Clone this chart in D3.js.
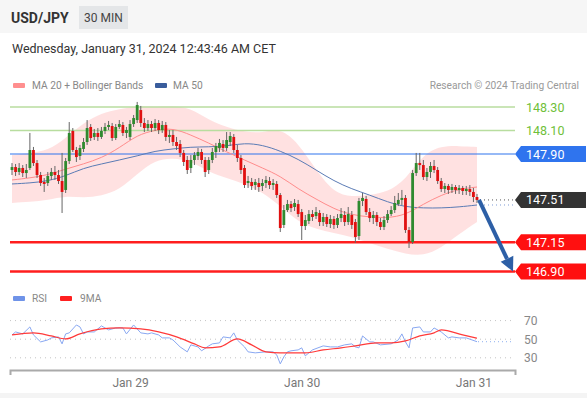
<!DOCTYPE html>
<html>
<head>
<meta charset="utf-8">
<script src="https://cdn.jsdelivr.net/npm/d3@7"></script>
<style>
  body { margin: 0; background: #fff; }
  svg { display: block; font-family: Roboto, "Liberation Sans", sans-serif; }
</style>
</head>
<body>
<svg width="587" height="398"></svg>
<script>
// USD/JPY 30 min candles, index 0 = first bar on screen
var opens = [
  147.764,147.789,147.747,147.781,147.738,147.781,147.934,147.823,147.721,147.662,
  147.653,147.713,147.747,147.721,147.670,147.594,147.840,148.096,147.934,147.883,
  147.943,148.002,148.130,148.045,148.079,148.045,148.096,148.130,148.138,148.036,
  148.130,148.147,148.079,148.045,148.155,148.189,148.274,148.164,148.121,148.155,
  148.121,148.164,148.104,148.147,148.045,148.062,148.002,147.985,147.909,147.849,
  147.781,147.849,147.883,147.917,147.849,147.764,147.849,147.917,147.951,147.985,
  147.951,148.002,148.045,147.934,147.866,147.781,147.653,147.662,147.636,147.653,
  147.628,147.653,147.670,147.636,147.645,147.551,147.296,147.423,147.474,147.449,
  147.474,147.406,147.287,147.330,147.389,147.372,147.398,147.321,147.364,147.304,
  147.347,147.296,147.355,147.381,147.321,147.381,147.321,147.202,147.500,147.517,
  147.406,147.355,147.381,147.321,147.279,147.338,147.389,147.423,147.474,147.509,
  147.526,147.253,147.151,147.738,147.823,147.806,147.704,147.747,147.798,147.764,
  147.670,147.602,147.628,147.594,147.619,147.594,147.611,147.585,147.602,147.577,
  147.534
];
var closes = [
  147.789,147.747,147.781,147.738,147.764,147.934,147.823,147.721,147.653,147.645,
  147.713,147.747,147.721,147.670,147.577,147.840,148.079,147.934,147.874,147.951,
  148.002,148.121,148.036,148.079,148.045,148.096,148.130,148.147,148.036,148.130,
  148.155,148.079,148.104,148.155,148.206,148.317,148.164,148.121,148.155,148.121,
  148.164,148.104,148.147,148.045,148.062,148.002,147.968,147.909,147.832,147.764,
  147.849,147.891,147.917,147.849,147.747,147.849,147.917,147.968,147.994,147.951,
  148.019,148.053,147.934,147.866,147.764,147.636,147.670,147.628,147.662,147.619,
  147.653,147.679,147.636,147.653,147.551,147.270,147.423,147.474,147.440,147.483,
  147.389,147.287,147.338,147.389,147.364,147.406,147.321,147.364,147.304,147.347,
  147.296,147.355,147.389,147.321,147.389,147.296,147.194,147.500,147.526,147.406,
  147.355,147.381,147.321,147.279,147.338,147.389,147.423,147.483,147.509,147.526,
  147.253,147.151,147.738,147.823,147.806,147.704,147.747,147.798,147.764,147.670,
  147.602,147.628,147.594,147.619,147.594,147.611,147.585,147.602,147.577,147.534,
  147.509
];
var highs = [
  147.823,147.815,147.823,147.806,147.815,148.079,147.960,147.849,147.747,147.696,
  147.747,147.781,147.798,147.764,147.909,147.866,148.172,148.121,147.960,147.977,
  148.036,148.189,148.155,148.113,148.121,148.130,148.164,148.181,148.164,148.155,
  148.189,148.172,148.130,148.189,148.232,148.343,148.309,148.206,148.189,148.181,
  148.198,148.189,148.181,148.172,148.104,148.104,148.045,148.019,147.934,147.883,
  147.891,147.917,147.951,147.943,147.874,147.874,147.951,147.994,148.028,148.019,
  148.087,148.087,148.070,147.977,147.891,147.806,147.713,147.696,147.687,147.696,
  147.687,147.713,147.704,147.687,147.670,147.568,147.466,147.509,147.500,147.517,
  147.509,147.432,147.381,147.423,147.423,147.449,147.423,147.398,147.389,147.381,
  147.372,147.389,147.440,147.415,147.449,147.415,147.347,147.526,147.568,147.543,
  147.440,147.415,147.406,147.355,147.372,147.423,147.457,147.543,147.568,147.594,
  147.551,147.279,147.764,147.909,147.909,147.849,147.781,147.832,147.849,147.789,
  147.696,147.653,147.645,147.645,147.636,147.636,147.628,147.628,147.636,147.611,
  147.560
];
var lows = [
  147.721,147.713,147.721,147.704,147.696,147.764,147.798,147.696,147.628,147.577,
  147.628,147.679,147.679,147.645,147.398,147.568,147.815,147.917,147.832,147.849,
  147.917,147.977,148.011,148.019,148.011,148.028,148.070,148.104,148.011,148.019,
  148.113,148.053,148.036,148.019,148.130,148.164,148.130,148.087,148.096,148.087,
  148.096,148.070,148.079,148.011,147.994,147.968,147.934,147.874,147.798,147.730,
  147.738,147.806,147.849,147.815,147.704,147.730,147.823,147.866,147.917,147.917,
  147.926,147.968,147.909,147.832,147.730,147.611,147.611,147.594,147.594,147.577,
  147.585,147.611,147.602,147.594,147.526,147.236,147.270,147.406,147.406,147.415,
  147.364,147.168,147.253,147.304,147.330,147.347,147.287,147.287,147.279,147.270,
  147.262,147.270,147.321,147.287,147.296,147.262,147.143,147.168,147.457,147.381,
  147.321,147.304,147.287,147.253,147.253,147.313,147.372,147.398,147.457,147.466,
  147.228,147.100,147.134,147.713,147.764,147.679,147.670,147.696,147.738,147.645,
  147.577,147.568,147.560,147.568,147.560,147.560,147.551,147.551,147.543,147.491,
  147.483
];

// moving averages and bands, read every 5 bars
var bandIdx = [0,5,10,15,20,25,30,35,40,45,50,55,60,65,70,75,80,85,90,95,100,105,110,115,120,125,130];
var ma20 = [147.679,147.696,147.721,147.772,147.815,147.866,147.951,148.062,148.104,148.121,148.062,147.994,147.917,
            147.849,147.781,147.713,147.602,147.517,147.432,147.381,147.364,147.355,147.381,147.474,147.551,147.602,147.619];
var ma50 = [147.645,147.653,147.670,147.713,147.781,147.815,147.849,147.883,147.926,147.943,147.960,147.960,147.968,
            147.994,147.977,147.926,147.857,147.764,147.670,147.602,147.551,147.491,147.449,147.440,147.440,147.449,147.466];
var bandUpper = [147.891,147.909,147.926,148.036,148.164,148.249,148.283,148.309,148.300,148.309,148.291,148.189,148.130,
                 148.087,148.079,148.121,147.994,147.764,147.568,147.534,147.551,147.577,147.679,147.900,147.968,147.968,147.960];
var bandLower = [147.483,147.491,147.509,147.543,147.526,147.543,147.594,147.730,147.849,147.866,147.840,147.747,147.696,
                 147.645,147.577,147.457,147.321,147.262,147.228,147.194,147.143,147.091,147.049,147.032,147.100,147.219,147.321];

// key levels
var levelPrices = [148.30, 148.10, 147.90, 147.15, 146.90];
var levelTypes = ["resistance", "resistance", "pivot", "support", "support"];
var targetPrice = 146.90;

// RSI (bar index, value) and its 9MA
var rsiIdx = [0,1,3,5,6,8,10,11,13,14,15,16,18,19,20,21,23,25,26,27,29,31,32,34,36,38,39,41,42,44,45,47,49,50,52,53,55,56,58,59,
              61,62,63,65,66,68,71,73,74,75,76,77,78,80,81,82,84,87,89,91,93,95,96,97,98,100,101,103,106,108,109,110,111,112,114,
              115,117,118,120,122,123,125,127,130];
var rsiVal = [54.6,57.8,55.7,63.2,54.6,47.1,49.2,51.4,52.5,45.0,55.7,56.8,65.3,63.2,55.7,57.8,57.8,64.3,62.1,60.0,62.1,62.1,55.7,
              65.3,56.8,55.7,56.8,54.6,51.4,51.4,49.2,41.7,36.4,43.9,41.7,37.5,42.8,45.0,46.0,52.5,51.4,56.8,49.2,41.7,36.4,35.3,
              36.4,36.4,33.2,23.5,31.0,36.4,37.5,38.5,40.7,32.1,38.5,42.8,41.7,41.7,43.9,45.0,41.7,40.7,53.5,47.1,47.1,43.9,45.0,
              49.2,55.7,47.1,40.7,62.1,63.2,57.8,57.8,62.1,57.8,51.4,52.5,51.4,51.4,47.3];
var rsiMaIdx = [0,6,11,15,19,25,30,36,41,46,51,54,58,63,67,71,75,80,82,87,92,96,102,106,110,114,118,120,126,130];
var rsiMaVal = [54.6,56.8,53.5,50.3,55.7,61.0,62.1,61.0,57.8,52.5,45.0,40.7,41.7,50.3,43.9,36.4,35.3,35.3,35.3,38.5,40.7,42.8,
                46.0,46.0,48.2,53.5,56.8,60.0,54.6,51.0];
var rsiTicks = [70, 50, 30];

var tickIdx = [33, 81, 129];
var tickLabels = ["Jan 29", "Jan 30", "Jan 31"];

var svg = d3.select("svg");
var plotLeft = 10, plotRight = 515;

var x = d3.scaleLinear().domain([0, 130]).range([12, 477]);
var y = d3.scaleLinear().domain([146.90, 148.30]).range([271.5, 107]);
var yr = d3.scaleLinear().domain([30, 70]).range([357.8, 320.6]);

// header
svg.append("rect").attr("x", 0).attr("y", 0).attr("width", 587).attr("height", 33).attr("fill", "#f6f6f6");
svg.append("rect").attr("x", 0).attr("y", 393).attr("width", 587).attr("height", 5).attr("fill", "#f4f4f4");
svg.append("text").attr("x", 11).attr("y", 23).attr("font-size", 14).attr("font-weight", "bold")
    .attr("fill", "#333").text("USD/JPY");
svg.append("rect").attr("x", 79).attr("y", 6).attr("width", 49).attr("height", 23).attr("fill", "#e4e6e8");
svg.append("text").attr("x", 103.5).attr("y", 22).attr("text-anchor", "middle").attr("font-size", 12)
    .attr("fill", "#444").text("30 MIN");
svg.append("text").attr("x", 12).attr("y", 53).attr("font-size", 12.5).attr("fill", "#333")
    .text("Wednesday, January 31, 2024 12:43:46 AM CET");

// legend
var legend = svg.append("g").attr("font-size", 10.2).attr("fill", "#888");
legend.append("rect").attr("x", 13).attr("y", 83).attr("width", 12).attr("height", 5).attr("rx", 1).attr("fill", "#ff8f8f");
legend.append("text").attr("x", 32).attr("y", 89).text("MA 20 + Bollinger Bands");
legend.append("rect").attr("x", 155).attr("y", 83).attr("width", 12).attr("height", 5).attr("rx", 1).attr("fill", "#3a5d9c");
legend.append("text").attr("x", 173).attr("y", 89).text("MA 50");
legend.append("text").attr("x", 579).attr("y", 89).attr("text-anchor", "end").attr("fill", "#999")
    .text("Research \u00a9 2024 Trading Central");

// bollinger band
var band = d3.area()
    .x(function(d, i) { return x(bandIdx[i]); })
    .y0(function(d, i) { return y(bandLower[i]); })
    .y1(function(d, i) { return y(bandUpper[i]); })
    .curve(d3.curveBasis);
svg.append("path").datum(bandIdx).attr("d", band).attr("fill", "#ffdcdc").attr("opacity", 0.85);

// level lines
levelPrices.forEach(function(p, i) {
    var t = levelTypes[i];
    var color = t === "resistance" ? "#b8dd9f" : (t === "pivot" ? "#2f74ee" : "#ff1e1e");
    svg.append("line")
        .attr("x1", plotLeft).attr("x2", plotRight)
        .attr("y1", y(p)).attr("y2", y(p))
        .attr("stroke", color)
        .attr("stroke-width", t === "support" ? 2.5 : (t === "pivot" ? 1.2 : 1.5));
});

// moving averages
var maLine = function(vals) {
    return d3.line()
        .x(function(d, i) { return x(bandIdx[i]); })
        .y(function(d) { return y(d); })
        .curve(d3.curveBasis)(vals);
};
svg.append("path").attr("d", maLine(ma50)).attr("fill", "none").attr("stroke", "#5a7bb5").attr("stroke-width", 1);
svg.append("path").attr("d", maLine(ma20)).attr("fill", "none").attr("stroke", "#ff8c8c").attr("stroke-width", 1);

// candles
var candles = svg.append("g");
closes.forEach(function(c, i) {
    var o = opens[i];
    var up = c >= o;
    candles.append("line")
        .attr("x1", x(i)).attr("x2", x(i))
        .attr("y1", y(highs[i])).attr("y2", y(lows[i]))
        .attr("stroke", "#666").attr("stroke-width", 1);
    var top = y(Math.max(o, c));
    var h = Math.max(1, y(Math.min(o, c)) - top);
    candles.append("rect")
        .attr("x", x(i) - 1.4).attr("y", top)
        .attr("width", 2.8).attr("height", h)
        .attr("fill", up ? "#2f8a2f" : "#e01010");
});

// last price and MA50 dotted extensions
var lastI = closes.length - 1;
var lastClose = closes[lastI];
svg.append("line").attr("x1", x(lastI) + 3).attr("x2", plotRight)
    .attr("y1", y(lastClose)).attr("y2", y(lastClose))
    .attr("stroke", "#555").attr("stroke-width", 1).attr("stroke-dasharray", "1,3");
svg.append("line").attr("x1", x(lastI) + 3).attr("x2", plotRight)
    .attr("y1", y(ma50[ma50.length - 1])).attr("y2", y(ma50[ma50.length - 1]))
    .attr("stroke", "#7d9bd4").attr("stroke-width", 1).attr("stroke-dasharray", "1,3");

// forecast arrow
var ax1 = x(lastI) + 2, ay1 = y(lastClose);
var ax2 = plotRight - 2, ay2 = y(targetPrice);
var ang = Math.atan2(ay2 - ay1, ax2 - ax1);
var headLen = 14, headW = 7;
var bx = ax2 - headLen * Math.cos(ang), by = ay2 - headLen * Math.sin(ang);
svg.append("line").attr("x1", ax1).attr("y1", ay1).attr("x2", bx).attr("y2", by)
    .attr("stroke", "#2d5fa6").attr("stroke-width", 4);
svg.append("polygon")
    .attr("points", [
        [ax2, ay2],
        [bx + headW * Math.sin(ang), by - headW * Math.cos(ang)],
        [bx - headW * Math.sin(ang), by + headW * Math.cos(ang)]
    ].map(function(p) { return p.join(","); }).join(" "))
    .attr("fill", "#2d5fa6");

// price tags on the right
var tag = function(price, fill, textColor) {
    var yc = y(price);
    var g = svg.append("g");
    if (fill) {
        g.append("polygon")
            .attr("points", [[plotRight, yc], [plotRight + 6, yc - 8], [586, yc - 8], [586, yc + 8], [plotRight + 6, yc + 8]]
                .map(function(p) { return p.join(","); }).join(" "))
            .attr("fill", fill);
    }
    g.append("text").attr("x", 526).attr("y", yc + 4.5)
        .attr("font-size", 12.5).attr("fill", textColor).text(price.toFixed(2));
};
levelPrices.forEach(function(p, i) {
    var t = levelTypes[i];
    if (t === "resistance") { tag(p, null, "#6fbf3a"); }
    else if (t === "pivot") { tag(p, "#2f74ee", "#fff"); }
    else { tag(p, "#ff1010", "#fff"); }
});
tag(lastClose, "#333", "#fff");

// RSI panel
var rsiLegend = svg.append("g").attr("font-size", 10.2).attr("fill", "#888");
rsiLegend.append("rect").attr("x", 13).attr("y", 296).attr("width", 12).attr("height", 5).attr("rx", 1).attr("fill", "#6f93e8");
rsiLegend.append("text").attr("x", 32).attr("y", 302).text("RSI");
rsiLegend.append("rect").attr("x", 60).attr("y", 296).attr("width", 12).attr("height", 5).attr("rx", 1).attr("fill", "#ff2020");
rsiLegend.append("text").attr("x", 80).attr("y", 302).text("9MA");

rsiTicks.forEach(function(v) {
    svg.append("line").attr("x1", plotLeft).attr("x2", plotRight)
        .attr("y1", yr(v)).attr("y2", yr(v))
        .attr("stroke", "#c4c4c4").attr("stroke-width", 1).attr("stroke-dasharray", "1,4");
    svg.append("text").attr("x", 524).attr("y", yr(v) + 4.5)
        .attr("font-size", 12).attr("fill", "#888").text(v);
});

var lastRsi = rsiVal[rsiVal.length - 1];
svg.append("line").attr("x1", x(lastI) + 1).attr("x2", plotRight - 2)
    .attr("y1", yr(lastRsi)).attr("y2", yr(lastRsi))
    .attr("stroke", "#8fb0f0").attr("stroke-width", 1).attr("stroke-dasharray", "1,3");

var rsiLine = d3.line()
    .x(function(d, i) { return x(rsiIdx[i]); })
    .y(function(d) { return yr(d); });
svg.append("path").attr("d", rsiLine(rsiVal)).attr("fill", "none")
    .attr("stroke", "#89a8f2").attr("stroke-width", 1);

var rsiMaLine = d3.line()
    .x(function(d, i) { return x(rsiMaIdx[i]); })
    .y(function(d) { return yr(d); })
    .curve(d3.curveMonotoneX);
svg.append("path").attr("d", rsiMaLine(rsiMaVal)).attr("fill", "none")
    .attr("stroke", "#ff3a3a").attr("stroke-width", 1.2);

// time axis
var xAxisScale = d3.scaleLinear().domain([x.invert(plotLeft), x.invert(plotRight)]).range([plotLeft, plotRight]);
var axis = svg.append("g")
    .attr("transform", "translate(0,370)")
    .call(d3.axisBottom(xAxisScale)
        .tickValues(tickIdx)
        .tickFormat(function(d, i) { return tickLabels[i]; })
        .tickSizeInner(0)
        .tickSizeOuter(5)
        .tickPadding(8));
axis.select(".domain").attr("stroke", "#aaa").attr("stroke-width", 2);
axis.selectAll("text").attr("font-size", 12).attr("fill", "#777").attr("font-family", "Roboto, sans-serif");
</script>
</body>
</html>
